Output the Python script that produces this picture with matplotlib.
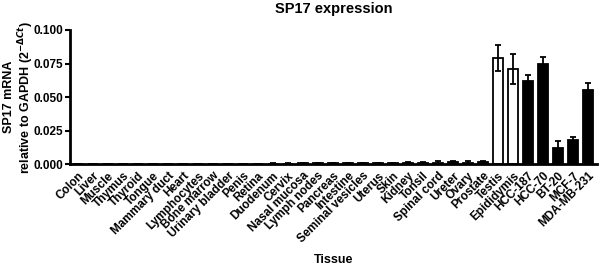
import matplotlib
matplotlib.use("Agg")
import matplotlib.pyplot as plt
import numpy as np

plt.rcParams['font.family'] = ['Liberation Sans', 'DejaVu Sans']
plt.rcParams['font.weight'] = 'bold'

tissues = ["Colon", "Liver", "Muscle", "Thymus", "Thyroid", "Tongue", "Mammary duct",
           "Heart", "Lymphocytes", "Bone marrow", "Urinary bladder", "Penis", "Retina",
           "Duodenum", "Cervix", "Nasal mucosa", "Lymph nodes", "Pancreas", "Intestine",
           "Seminal vesicles", "Uterus", "Skin", "Kidney", "Tonsil", "Spinal cord",
           "Ureter", "Ovary", "Prostate", "Testis", "Epididymis", "HCC-187", "HCC-70",
           "BT-20", "MCF-7", "MDA-MB-231"]
values = [0.0001, 0.0001, 0.0001, 0.0001, 0.0001, 0.0001, 0.0002, 0.0002, 0.0002,
          0.0002, 0.0003, 0.0003, 0.0004, 0.0005, 0.0005, 0.0006, 0.0007, 0.0008,
          0.0009, 0.0010, 0.0010, 0.0011, 0.0012, 0.0012, 0.0012, 0.0015, 0.0013,
          0.0015, 0.0790, 0.0710, 0.0620, 0.0745, 0.0124, 0.0180, 0.0553]
errors = [0.0001, 0.0001, 0.0001, 0.0001, 0.0001, 0.0001, 0.0001, 0.0001, 0.0001,
          0.0001, 0.0001, 0.0001, 0.0001, 0.0001, 0.0001, 0.0001, 0.0002, 0.0002,
          0.0002, 0.0002, 0.0002, 0.0002, 0.0002, 0.0002, 0.0013, 0.0012, 0.0014,
          0.0012, 0.0098, 0.0110, 0.0043, 0.0055, 0.0052, 0.0020, 0.0052]
white_bars = ["Testis", "Epididymis"]

fig = plt.figure(figsize=(6.0, 2.65), dpi=100)
ax = fig.add_axes([0.117, 0.38, 0.878, 0.507])

x = np.arange(len(tissues))
faces = ['white' if t in white_bars else 'black' for t in tissues]
ax.bar(x, values, width=0.65, color=faces, edgecolor='black', linewidth=1.3, zorder=2)
ax.errorbar(x, values, yerr=errors, fmt='none', ecolor='black', elinewidth=1.3,
            capsize=2.5, capthick=1.3, zorder=3)

ax.set_xlim(-0.5, 34.6)
ax.set_ylim(0, 0.1)
ax.set_yticks([0, 0.025, 0.05, 0.075, 0.1])
ax.set_yticklabels(["0.000", "0.025", "0.050", "0.075", "0.100"])
ax.set_xticks(x)
ax.set_xticklabels(tissues, rotation=45, ha='right', rotation_mode='anchor', fontsize=8.5)
ax.tick_params(axis='x', length=0, pad=4)
ax.tick_params(axis='y', length=3.5, width=1.5, labelsize=8.5, pad=1.5)
for s in ['top', 'right']:
    ax.spines[s].set_visible(False)
for s in ['left', 'bottom']:
    ax.spines[s].set_linewidth(2)

ax.set_title("SP17 expression", fontsize=10.5, fontweight='bold', pad=12)
ymid = 1 - 97 / 265
fig.text(9 / 600, ymid, "SP17 mRNA", rotation=90, ha='center', va='center',
         fontsize=9, fontweight='bold')
fig.text(26 / 600, ymid, "relative to GAPDH (2$^{-\\Delta Ct}$)", rotation=90,
         ha='center', va='center', fontsize=9, fontweight='bold')
ax.set_xlabel("Tissue", fontsize=9, fontweight='bold', labelpad=6)

fig.savefig("out.png", dpi=100)
